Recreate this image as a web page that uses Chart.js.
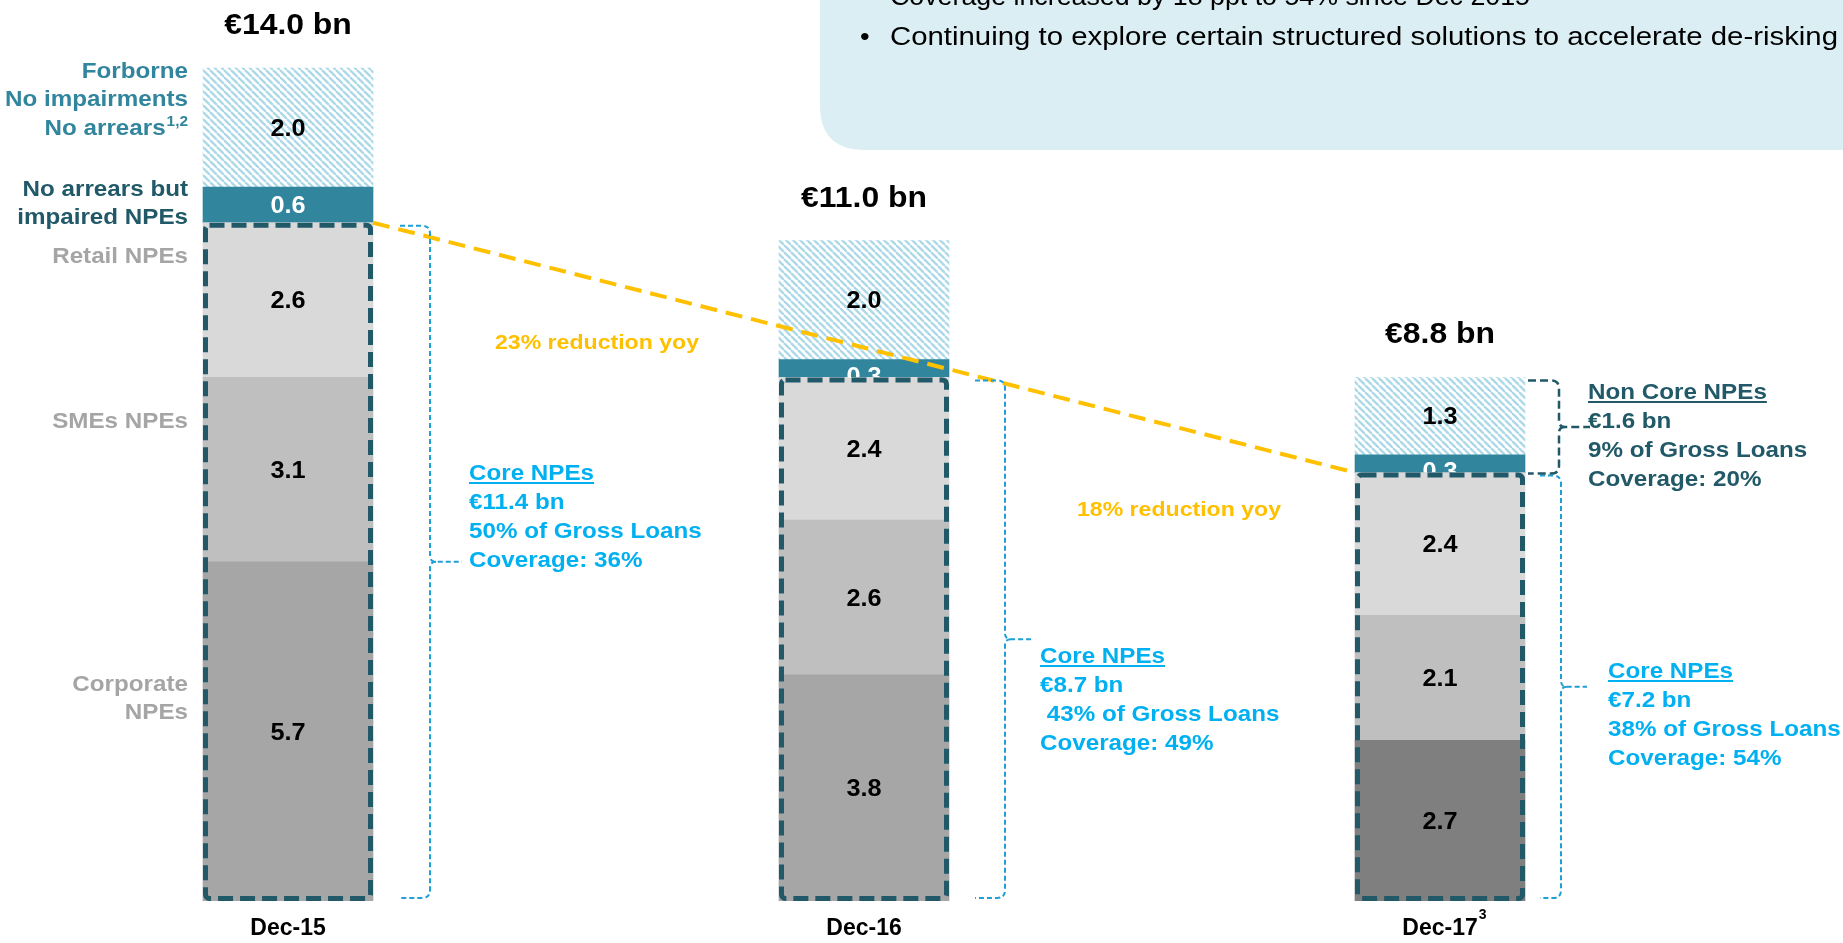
<!DOCTYPE html>
<html><head><meta charset="utf-8">
<script src="https://cdn.jsdelivr.net/npm/chart.js@4.4.1/dist/chart.umd.min.js"></script>
<style>html,body{margin:0;padding:0;background:#fff;overflow:hidden}#wrap{position:relative;width:1843px;height:943px}</style>
</head><body><div id="wrap"><canvas id="c" width="1843" height="943"></canvas></div>
<script>
// ---------- data ----------
const categories = ['Dec-15', 'Dec-16', 'Dec-17'];
const categoryFootnotes = ['', '', '3'];
const totalsBn = [14.0, 11.0, 8.8];
const corporateNPEs = [5.7, 3.8, 2.7];
const smeNPEs = [3.1, 2.6, 2.1];
const retailNPEs = [2.6, 2.4, 2.4];
const impairedNoArrears = [0.6, 0.3, 0.3];
const forborneNoArrears = [2.0, 2.0, 1.3];
const coreNPEsBn = [11.4, 8.7, 7.2];
const coreShareOfLoans = [50, 43, 38];
const coreCoverage = [36, 49, 54];
const nonCoreBn = 1.6;
const nonCoreShare = 9;
const nonCoreCoverage = 20;
const yoyReduction = [23, 18];
const seriesNames = ['Corporate NPEs', 'SMEs NPEs', 'Retail NPEs', 'No arrears but impaired NPEs', 'Forborne No impairments No arrears'];

// ---------- styles ----------
const FONT = "'Liberation Sans', Arial, sans-serif";
const TEAL = '#31859C', DARK_TEAL = '#215968', CYAN = '#00B0F0', BRACKET_BLUE = '#1E9FD6', GOLD = '#FFC000', GREY_TXT = '#A5A5A5';

function makeHatch() {
  const s = 7, c = document.createElement('canvas'); c.width = s; c.height = s;
  const x = c.getContext('2d');
  x.fillStyle = '#fff'; x.fillRect(0, 0, s, s);
  x.strokeStyle = '#ACD9E8'; x.lineWidth = 2.3;
  for (let k = -1; k <= 1; k++) { x.beginPath(); x.moveTo(k * s, 0); x.lineTo(k * s + s, s); x.stroke(); }
  return x.createPattern(c, 'repeat');
}

function txt(ctx, s, x, y, o) {
  const size = o.size || 22, weight = o.weight || 'bold', align = o.align || 'left';
  ctx.save();
  ctx.font = `${weight} ${size}px ${FONT}`;
  ctx.fillStyle = o.color || '#000';
  ctx.textBaseline = 'alphabetic'; ctx.textAlign = 'left';
  const raw = ctx.measureText(s).width;
  const sx = o.width ? o.width / raw : (o.sx || 1.1);
  const w = raw * sx;
  const x0 = align === 'left' ? x : align === 'right' ? x - w : x - w / 2;
  ctx.translate(x0, y); ctx.scale(sx, 1); ctx.fillText(s, 0, 0);
  ctx.restore();
  if (o.underline) {
    ctx.save(); ctx.strokeStyle = o.color || '#000'; ctx.lineWidth = 2;
    ctx.beginPath(); ctx.moveTo(x0, y + 3); ctx.lineTo(x0 + w, y + 3); ctx.stroke(); ctx.restore();
  }
  return w;
}

function bracket(ctx, armX, vx, y1, y2, tipLen, color, dash, lw) {
  const r = 8, ym = (y1 + y2) / 2, n = 6;
  ctx.save(); ctx.strokeStyle = color; ctx.lineWidth = lw; ctx.setLineDash(dash);
  ctx.beginPath();
  ctx.moveTo(armX, y1); ctx.lineTo(vx - r, y1); ctx.quadraticCurveTo(vx, y1, vx, y1 + r);
  ctx.lineTo(vx, ym - n); ctx.quadraticCurveTo(vx, ym, vx + n, ym); ctx.lineTo(vx + tipLen, ym);
  ctx.moveTo(vx + n, ym); ctx.quadraticCurveTo(vx, ym, vx, ym + n);
  ctx.lineTo(vx, y2 - r); ctx.quadraticCurveTo(vx, y2, vx - r, y2); ctx.lineTo(armX, y2);
  ctx.stroke(); ctx.restore();
}

// per-bar bracket/text layout (offsets from bar centre)
const coreBracketLayout = [
  { arm: 112, vx: 142, tip: 32, textX: 181, firstBaseline: 480 },
  { arm: 111, vx: 141, tip: 28, textX: 176, firstBaseline: 663 },
  { arm: 100, vx: 121, tip: 26, textX: 168, firstBaseline: 678 }
];

const annotations = {
  id: 'annotations',
  beforeDraw(chart) {
    const ctx = chart.ctx;
    ctx.save();
    const bx = 820, by = 150, R = 45;
    ctx.fillStyle = '#DAEEF3';
    ctx.beginPath(); ctx.moveTo(bx, -5); ctx.lineTo(bx, by - R);
    ctx.quadraticCurveTo(bx, by, bx + R, by); ctx.lineTo(1850, by); ctx.lineTo(1850, -5); ctx.closePath(); ctx.fill();
    ctx.restore();
    txt(ctx, 'Coverage increased by 18 ppt to 54% since Dec 2015', 890, 5, { size: 25, weight: 'normal', color: '#000', width: 640 });
    txt(ctx, '\u2022', 860, 45, { size: 25, weight: 'normal', color: '#000' });
    txt(ctx, 'Continuing to explore certain structured solutions to accelerate de-risking', 890, 45, { size: 25, weight: 'normal', color: '#000', width: 948 });
  },
  afterDatasetsDraw(chart) {
    const ctx = chart.ctx;
    const metas = chart.data.datasets.map((d, i) => chart.getDatasetMeta(i));
    const nBars = categories.length;
    const bottom = chart.chartArea.bottom;
    metas.forEach((meta, di) => {
      meta.data.forEach((el, j) => {
        const v = chart.data.datasets[di].data[j];
        const top = el.y, base = el.base, w = el.width;
        ctx.save();
        ctx.beginPath(); ctx.rect(el.x - w / 2, top, w, base - top); ctx.clip();
        const cy = (top + base) / 2;
        const shift = (base - top) < 25 ? 7 : 0;
        txt(ctx, v.toFixed(1), el.x, cy + 8.2 + shift, { size: 23, color: di === 3 ? '#fff' : '#000', align: 'center' });
        ctx.restore();
      });
    });
    const coreTop = [];
    for (let j = 0; j < nBars; j++) {
      const el = metas[2].data[j];
      coreTop.push(el.y);
      const w = el.width;
      ctx.save();
      ctx.strokeStyle = DARK_TEAL; ctx.lineWidth = 5; ctx.setLineDash([15, 7]); ctx.lineJoin = 'round';
      ctx.beginPath();
      if (ctx.roundRect) ctx.roundRect(el.x - w / 2 + 2.5, el.y + 2.5, w - 5, bottom - el.y - 5, 4);
      else ctx.rect(el.x - w / 2 + 2.5, el.y + 2.5, w - 5, bottom - el.y - 5);
      ctx.stroke(); ctx.restore();
    }
    const b1 = metas[2].data[0], b3 = metas[2].data[nBars - 1];
    ctx.save(); ctx.strokeStyle = GOLD; ctx.lineWidth = 4; ctx.setLineDash([17, 9]);
    ctx.beginPath(); ctx.moveTo(b1.x + b1.width / 2, coreTop[0]); ctx.lineTo(b3.x - b3.width / 2, coreTop[nBars - 1]); ctx.stroke(); ctx.restore();
    txt(ctx, `${yoyReduction[0]}% reduction yoy`, 597, 349, { size: 21, color: GOLD, align: 'center' });
    txt(ctx, `${yoyReduction[1]}% reduction yoy`, 1179, 516, { size: 21, color: GOLD, align: 'center' });

    for (let j = 0; j < nBars; j++) {
      const el = metas[2].data[j], L = coreBracketLayout[j];
      bracket(ctx, el.x + L.arm, el.x + L.vx, coreTop[j] + 3, bottom - 3, L.tip, BRACKET_BLUE, [5, 3], 2);
      const lines = ['Core NPEs', `\u20AC${coreNPEsBn[j].toFixed(1)} bn`, `${j === 1 ? ' ' : ''}${coreShareOfLoans[j]}% of Gross Loans`, `Coverage: ${coreCoverage[j]}%`];
      lines.forEach((s, k) => txt(ctx, s, el.x + L.textX, L.firstBaseline + k * 29, { size: 22, color: CYAN, underline: k === 0 }));
    }
    const j3 = nBars - 1, top3 = metas[4].data[j3].y, nc = metas[3].data[j3];
    bracket(ctx, nc.x + 88, nc.x + 119, top3 + 3, nc.base + 1, 31, DARK_TEAL, [8, 4], 2.5);
    ['Non Core NPEs', `\u20AC${nonCoreBn.toFixed(1)} bn`, `${nonCoreShare}% of Gross Loans`, `Coverage: ${nonCoreCoverage}%`]
      .forEach((s, k) => txt(ctx, s, 1588, 399 + k * 29, { size: 22, color: DARK_TEAL, underline: k === 0 }));

    for (let j = 0; j < nBars; j++) {
      const el = metas[4].data[j];
      txt(ctx, `\u20AC${totalsBn[j].toFixed(1)} bn`, el.x, el.y - 34, { size: 29, align: 'center' });
    }
    const lx = 188;
    txt(ctx, 'Forborne', lx, 78, { size: 22, color: TEAL, align: 'right' });
    txt(ctx, 'No impairments', lx, 106, { size: 22, color: TEAL, align: 'right' });
    ctx.save(); ctx.font = `bold 14px ${FONT}`; const supW = ctx.measureText('1,2').width * 1.1; ctx.restore();
    txt(ctx, 'No arrears', lx - supW - 1, 135, { size: 22, color: TEAL, align: 'right' });
    txt(ctx, '1,2', lx - supW, 126, { size: 14, color: TEAL });
    txt(ctx, 'No arrears but', lx, 196, { size: 22, color: DARK_TEAL, align: 'right' });
    txt(ctx, 'impaired NPEs', lx, 224, { size: 22, color: DARK_TEAL, align: 'right' });
    txt(ctx, 'Retail NPEs', lx, 263, { size: 22, color: GREY_TXT, align: 'right' });
    txt(ctx, 'SMEs NPEs', lx, 428, { size: 22, color: GREY_TXT, align: 'right' });
    txt(ctx, 'Corporate', lx, 691, { size: 22, color: GREY_TXT, align: 'right' });
    txt(ctx, 'NPEs', lx, 719, { size: 22, color: GREY_TXT, align: 'right' });
  },
  afterDraw(chart) {
    const ctx = chart.ctx, xs = chart.scales.x;
    categories.forEach((c, i) => {
      if (!categoryFootnotes[i]) return;
      ctx.save(); ctx.font = `bold 23px ${FONT}`; const w = ctx.measureText(c).width; ctx.restore();
      txt(ctx, categoryFootnotes[i], xs.getPixelForValue(i) + w / 2 + 1, 919, { size: 14, sx: 1 });
    });
  }
};

const hatch = makeHatch();
const ds = (label, data, color) => ({ label, data, backgroundColor: color, borderWidth: 0, barThickness: 170, stack: 's' });

new Chart(document.getElementById('c'), {
  type: 'bar',
  data: {
    labels: categories,
    datasets: [
      ds(seriesNames[0], corporateNPEs, ['#A6A6A6', '#A6A6A6', '#7F7F7F']),
      ds(seriesNames[1], smeNPEs, '#BFBFBF'),
      ds(seriesNames[2], retailNPEs, '#D9D9D9'),
      ds(seriesNames[3], impairedNoArrears, TEAL),
      ds(seriesNames[4], forborneNoArrears, hatch)
    ]
  },
  options: {
    responsive: false, animation: false, devicePixelRatio: 1,
    layout: { padding: { left: 0, right: 115, top: 8.5, bottom: 0 } },
    plugins: { legend: { display: false }, tooltip: { enabled: false } },
    scales: {
      x: {
        stacked: true, grid: { display: false, drawTicks: false }, border: { display: false },
        ticks: { color: '#000', font: { family: FONT, size: 23, weight: 'bold', lineHeight: 1.2 }, padding: 14 },
        afterFit(s) { s.height = 42; }
      },
      y: { stacked: true, display: false, min: 0, max: 15 }
    }
  },
  plugins: [annotations]
});
</script>
</body></html>
